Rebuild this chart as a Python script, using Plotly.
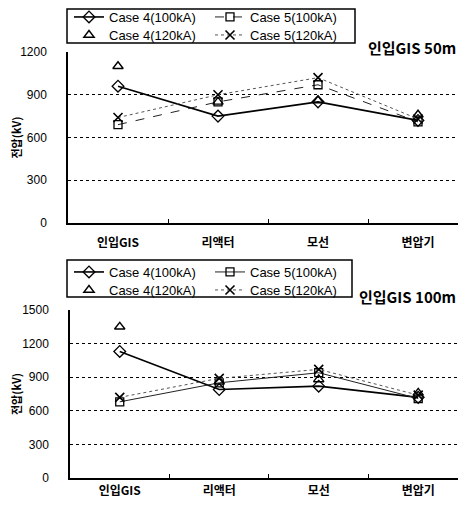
import plotly.graph_objects as go

categories = ["인입GIS", "리액터", "모선", "변압기"]

# Top chart: 인입GIS 50m
c4_100_50 = [960, 750, 850, 720]
c5_100_50 = [690, 850, 970, 710]
c4_120_50 = [1100, 850, 860, 760]
c5_120_50 = [740, 900, 1020, 730]

# Bottom chart: 인입GIS 100m
c4_100_100 = [1130, 790, 820, 720]
c5_100_100 = [680, 850, 940, 710]
c4_120_100 = [1350, 860, 880, 760]
c5_120_100 = [720, 890, 970, 740]

names = ["Case 4(100kA)", "Case 5(100kA)", "Case 4(120kA)", "Case 5(120kA)"]
y_ticks_top = [0, 300, 600, 900, 1200]
y_ticks_bot = [0, 300, 600, 900, 1200, 1500]

# page adds 8px body margin on each side -> 466x508 window
W, H = 450, 492
FONT = "Liberation Sans, Arial, sans-serif"
KFONT = "Noto Sans CJK KR, sans-serif"

fig = go.Figure()

def add_series(vals, xa, ya, leg_a, leg_b, dash5):
    c4_100, c5_100, c4_120, c5_120 = vals
    fig.add_trace(go.Scatter(x=categories, y=c4_100, name=names[0], mode="lines+markers",
                             line=dict(color="black", width=1.6),
                             marker=dict(symbol="diamond-open", size=9, color="black", line=dict(width=1.3)),
                             xaxis=xa, yaxis=ya, legend=leg_a))
    fig.add_trace(go.Scatter(x=categories, y=c5_100, name=names[1], mode="lines+markers",
                             line=dict(color="#222", width=1.0, dash=dash5),
                             marker=dict(symbol="square-open", size=8, color="black", line=dict(width=1.3)),
                             xaxis=xa, yaxis=ya, legend=leg_a))
    fig.add_trace(go.Scatter(x=categories, y=c4_120, name=names[2], mode="markers",
                             marker=dict(symbol="triangle-up-open", size=9, color="black", line=dict(width=1.4)),
                             xaxis=xa, yaxis=ya, legend=leg_b))
    fig.add_trace(go.Scatter(x=categories, y=c5_120, name=names[3], mode="lines+markers",
                             line=dict(color="#555", width=1.0, dash="dot"),
                             marker=dict(symbol="x-thin-open", size=9, color="black", line=dict(width=1.6)),
                             xaxis=xa, yaxis=ya, legend=leg_b))

add_series((c4_100_50, c5_100_50, c4_120_50, c5_120_50), "x", "y", "legend", "legend2", "dash")
add_series((c4_100_100, c5_100_100, c4_120_100, c5_120_100), "x2", "y2", "legend3", "legend4", "solid")

xaxis_common = dict(type="category", range=[-0.5, 3.4], showline=True, linecolor="black", linewidth=1.5,
                    ticks="inside", tickson="boundaries", ticklen=4, tickcolor="black", tickwidth=1,
                    showgrid=False, automargin=False,
                    tickfont=dict(family=KFONT, size=12, color="black", weight="bold"),
                    fixedrange=True)
yaxis_common = dict(showline=True, linecolor="black", linewidth=1.5, ticks="", showgrid=True,
                    gridcolor="black", griddash="dot", gridwidth=1, zeroline=False, automargin=False,
                    ticklabelstandoff=17,
                    tickfont=dict(family=FONT, size=12, color="black"),
                    title=dict(text="전압(kV)", font=dict(family=KFONT, size=11, color="black", weight="bold"),
                               standoff=0))

legend_common = dict(orientation="h", xanchor="left", yanchor="middle", xref="container", yref="container",
                     entrywidth=96, entrywidthmode="pixels", borderwidth=0,
                     bgcolor="rgba(0,0,0,0)", font=dict(family=FONT, size=13, color="black"),
                     tracegroupgap=0, itemwidth=30)

def ly(center_px):
    return 1 - center_px / H

fig.update_layout(
    width=W, height=H, margin=dict(l=0, r=0, t=0, b=0, autoexpand=False),
    paper_bgcolor="white", plot_bgcolor="white",
    xaxis=dict(domain=[60 / W, 1.0], anchor="y", ticklabelstandoff=8, **xaxis_common),
    yaxis=dict(domain=[1 - 215 / H, 1 - 44 / H], anchor="x", range=[0, 1200], tickvals=y_ticks_top, **yaxis_common),
    xaxis2=dict(domain=[62 / W, 1.0], anchor="y2", ticklabelstandoff=1, **xaxis_common),
    yaxis2=dict(domain=[1 - 470 / H, 1 - 302 / H], anchor="x2", range=[0, 1500], tickvals=y_ticks_bot, **yaxis_common),
    legend=dict(x=61 / W, y=ly(9), **legend_common),
    legend2=dict(x=61 / W, y=ly(27), **legend_common),
    legend3=dict(x=61 / W, y=ly(264), **legend_common),
    legend4=dict(x=61 / W, y=ly(282), **legend_common),
    shapes=[
        dict(type="rect", xref="paper", yref="paper", x0=59 / W, x1=347 / W, y0=1 - 1 / H, y1=1 - 35 / H,
             line=dict(color="black", width=1.5), fillcolor="rgba(0,0,0,0)", layer="above"),
        dict(type="rect", xref="paper", yref="paper", x0=59 / W, x1=344 / W, y0=1 - 252 / H, y1=1 - 289 / H,
             line=dict(color="black", width=1.5), fillcolor="rgba(0,0,0,0)", layer="above"),
    ],
    annotations=[
        dict(text="<b>인입GIS 50m</b>", x=1.0, y=1 - 27 / H, xref="paper", yref="paper", xanchor="right",
             showarrow=False, font=dict(family=KFONT, size=15, color="black")),
        dict(text="<b>인입GIS 100m</b>", x=1.0, y=1 - 288 / H, xref="paper", yref="paper", xanchor="right",
             showarrow=False, font=dict(family=KFONT, size=15, color="black")),
    ],
    showlegend=True,
)

fig.write_html("out.html")
